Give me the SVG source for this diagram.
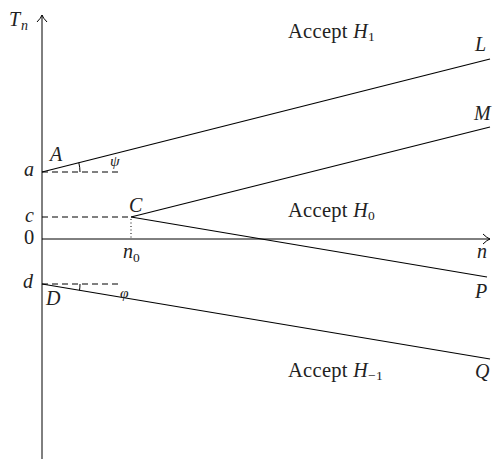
<svg xmlns="http://www.w3.org/2000/svg" width="495" height="459" viewBox="0 0 495 459">
<defs>
<style>
.ln{stroke:#000;stroke-width:1.2;fill:none}
.ax{stroke:#000;stroke-width:1;fill:none}
.ds{stroke:#000;stroke-width:1;stroke-dasharray:6 4;fill:none}
.dt{stroke:#000;stroke-width:1;stroke-dasharray:1 2.5;fill:none}
.t{font-family:"Liberation Serif",serif;font-size:20.5px;letter-spacing:0.3px;fill:#222}
.i{font-family:"Liberation Serif",serif;font-style:italic;font-size:20px;fill:#222}
.s{font-family:"Liberation Serif",serif;font-size:13.5px;fill:#222}
.si{font-family:"Liberation Serif",serif;font-style:italic;font-size:14px;fill:#222}
</style>
</defs>
<g id="connectors">
<line class="ax" x1="42" y1="459" x2="42" y2="15"/>
<path class="ax" d="M37,22 Q41,18 42,15 Q43,18 47,22"/>
<line class="ax" x1="42" y1="239" x2="490" y2="239"/>
<path class="ax" d="M483,234 Q487,238 490,239 Q487,240 483,244"/>
<line class="ln" x1="42" y1="172" x2="490" y2="59"/>
<line class="ln" x1="131" y1="217" x2="490" y2="127"/>
<line class="ln" x1="131" y1="217" x2="487" y2="277"/>
<line class="ln" x1="42" y1="284" x2="490" y2="359"/>
<line class="ds" x1="42" y1="172" x2="120" y2="172"/>
<line class="ds" x1="42" y1="217" x2="131" y2="217"/>
<line class="ds" x1="42" y1="284" x2="120" y2="284"/>
<line class="dt" x1="131" y1="219" x2="131" y2="239"/>
<path class="ax" d="M80,172 A38,38 0 0 0 78.8,162.7"/>
<path class="ax" d="M80,284 A38,38 0 0 1 79.5,290.3"/>
</g>
<g id="axis-labels">
<text class="i" x="9" y="26">T</text><text class="si" x="21" y="30">n</text>
<text class="i" x="477" y="258">n</text>
<text class="i" x="123" y="258">n</text><text class="s" x="133" y="262">0</text>
<text class="i" x="24" y="176">a</text>
<text class="i" x="25" y="222">c</text>
<text class="t" x="24" y="244">0</text>
<text class="i" x="23" y="288">d</text>
</g>
<g id="node-A"><text class="i" x="50" y="161">A</text><text class="i" x="110" y="166" style="font-size:15.5px">ψ</text></g>
<g id="node-C"><text class="i" x="129" y="212">C</text></g>
<g id="node-D"><text class="i" x="46" y="305">D</text><text class="i" x="120" y="298" style="font-size:15.5px">φ</text></g>
<g id="node-L"><text class="i" x="475" y="51">L</text></g>
<g id="node-M"><text class="i" x="474" y="120">M</text></g>
<g id="node-P"><text class="i" x="475" y="298">P</text></g>
<g id="node-Q"><text class="i" x="475" y="378">Q</text></g>
<g id="region-H1"><text class="t" x="288" y="38">Accept <tspan font-style="italic" font-size="20px">H</tspan><tspan font-size="13.5px" dy="3">1</tspan></text></g>
<g id="region-H0"><text class="t" x="288" y="217">Accept <tspan font-style="italic" font-size="20px">H</tspan><tspan font-size="13.5px" dy="3">0</tspan></text></g>
<g id="region-Hm1"><text class="t" x="288" y="377">Accept <tspan font-style="italic" font-size="20px">H</tspan><tspan font-size="13.5px" dy="3">−1</tspan></text></g>
</svg>
